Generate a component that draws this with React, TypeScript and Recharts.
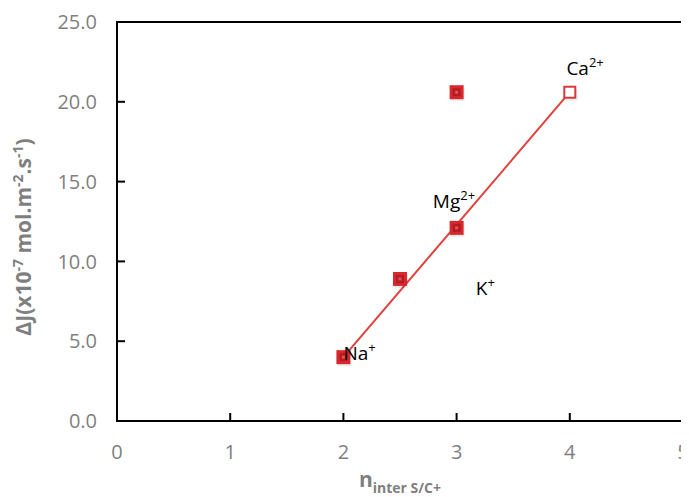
import {
  ScatterChart,
  Scatter,
  XAxis,
  YAxis,
  ReferenceArea,
} from "recharts";

const filledPoints = [
  { x: 2, y: 4.0 },
  { x: 2.5, y: 8.9 },
  { x: 3, y: 12.1 },
  { x: 3, y: 20.6 },
];
const hollowPoints = [{ x: 4, y: 20.6 }];

// trendline through Na+ .. Ca2+
const trendLine = [
  { x: 2, y: 4.0 },
  { x: 4, y: 20.6 },
];

// ion labels placed next to the points (text baseline at x, y)
const ionLabels = [
  { x: 2.0, y: 3.8, base: "Na", sup: "+" },
  { x: 2.79, y: 13.35, base: "Mg", sup: "2+" },
  { x: 3.97, y: 21.7, base: "Ca", sup: "2+" },
  { x: 3.17, y: 7.9, base: "K", sup: "+" },
];

const xTicks = [0, 1, 2, 3, 4, 5];
const yTicks = [0, 5, 10, 15, 20, 25];

const FONT = "'Open Sans', sans-serif";
const GRAY = "#7f7f7f";

const FilledSquare = (props: any) => {
  const { cx, cy } = props;
  if (cx == null || cy == null) return null;
  return (
    <g>
      <rect x={cx - 6} y={cy - 5} width={14} height={14} fill="#000" opacity={0.08} />
      <rect x={cx - 7} y={cy - 7} width={14} height={14} fill="#d8282d" />
      <rect x={cx - 4} y={cy - 4} width={8} height={8} fill="#b51b21" />
      <rect x={cx - 1.5} y={cy - 1.5} width={3} height={3} fill="#e05458" />
    </g>
  );
};

const HollowSquare = (props: any) => {
  const { cx, cy } = props;
  if (cx == null || cy == null) return null;
  return (
    <g>
      <rect x={cx - 4} y={cy - 3} width={12} height={12} fill="#000" opacity={0.06} />
      <rect x={cx - 5.5} y={cy - 5.5} width={11} height={11} fill="#fff" stroke="#d83a3a" strokeWidth={2} />
    </g>
  );
};

const IonText = (props: any) => {
  const { cx, cy, payload } = props;
  if (cx == null || cy == null) return null;
  return (
    <text x={cx} y={cy} fill="#000" fontFamily={FONT} fontSize={19}>
      {payload.base}
      <tspan dy={-8} fontSize={13}>
        {payload.sup}
      </tspan>
    </text>
  );
};

const YTitle = () => (
  <text
    transform="translate(23, 229) rotate(-90)"
    textAnchor="middle"
    fill={GRAY}
    fontFamily={FONT}
    fontWeight="bold"
    fontSize={21}
  >
    ΔJ(x10
    <tspan dy={-8} fontSize={14}>-7</tspan>
    <tspan dy={8}> mol.m</tspan>
    <tspan dy={-8} fontSize={14}>-2</tspan>
    <tspan dy={8}>.s</tspan>
    <tspan dy={-8} fontSize={14}>-1</tspan>
    <tspan dy={8}>)</tspan>
  </text>
);

const XTitle = () => (
  <text
    x={392}
    y={479}
    textAnchor="middle"
    fill={GRAY}
    fontFamily={FONT}
    fontWeight="bold"
  >
    <tspan fontSize={21}>n</tspan>
    <tspan dy={6} fontSize={14}>inter S/C+</tspan>
  </text>
);

export default function App() {
  return (
    <ScatterChart
      width={681}
      height={489}
      margin={{ top: 14, right: 6, bottom: 16, left: 39 }}
      style={{ overflow: "visible" }}
    >
      <XAxis
        type="number"
        dataKey="x"
        domain={[0, 5]}
        ticks={xTicks}
        interval={0}
        allowDataOverflow
        axisLine={false}
        tickLine={{ stroke: "#000", strokeWidth: 2 }}
        tickSize={-8}
        tickMargin={32}
        height={60}
        tick={{ fill: GRAY, fontSize: 20, fontFamily: FONT }}
      />
      <YAxis
        type="number"
        dataKey="y"
        domain={[0, 25]}
        ticks={yTicks}
        interval={0}
        allowDataOverflow
        axisLine={false}
        tickLine={{ stroke: "#000", strokeWidth: 2 }}
        tickSize={-8}
        tickMargin={28}
        width={70}
        tickFormatter={(v: number) => v.toFixed(1)}
        tick={{ fill: GRAY, fontSize: 20, fontFamily: FONT }}
      />
      <ReferenceArea
        x1={0}
        x2={5}
        y1={0}
        y2={25}
        fill="none"
        stroke="#000"
        strokeWidth={2}
        ifOverflow="visible"
      />
      <Scatter
        data={trendLine}
        line={{ stroke: "#e0413d", strokeWidth: 2 }}
        shape={() => null}
        isAnimationActive={false}
      />
      <Scatter data={filledPoints} shape={FilledSquare} isAnimationActive={false} />
      <Scatter data={hollowPoints} shape={HollowSquare} isAnimationActive={false} />
      <Scatter data={ionLabels} shape={IonText} isAnimationActive={false} />
      <YTitle />
      <XTitle />
    </ScatterChart>
  );
}
